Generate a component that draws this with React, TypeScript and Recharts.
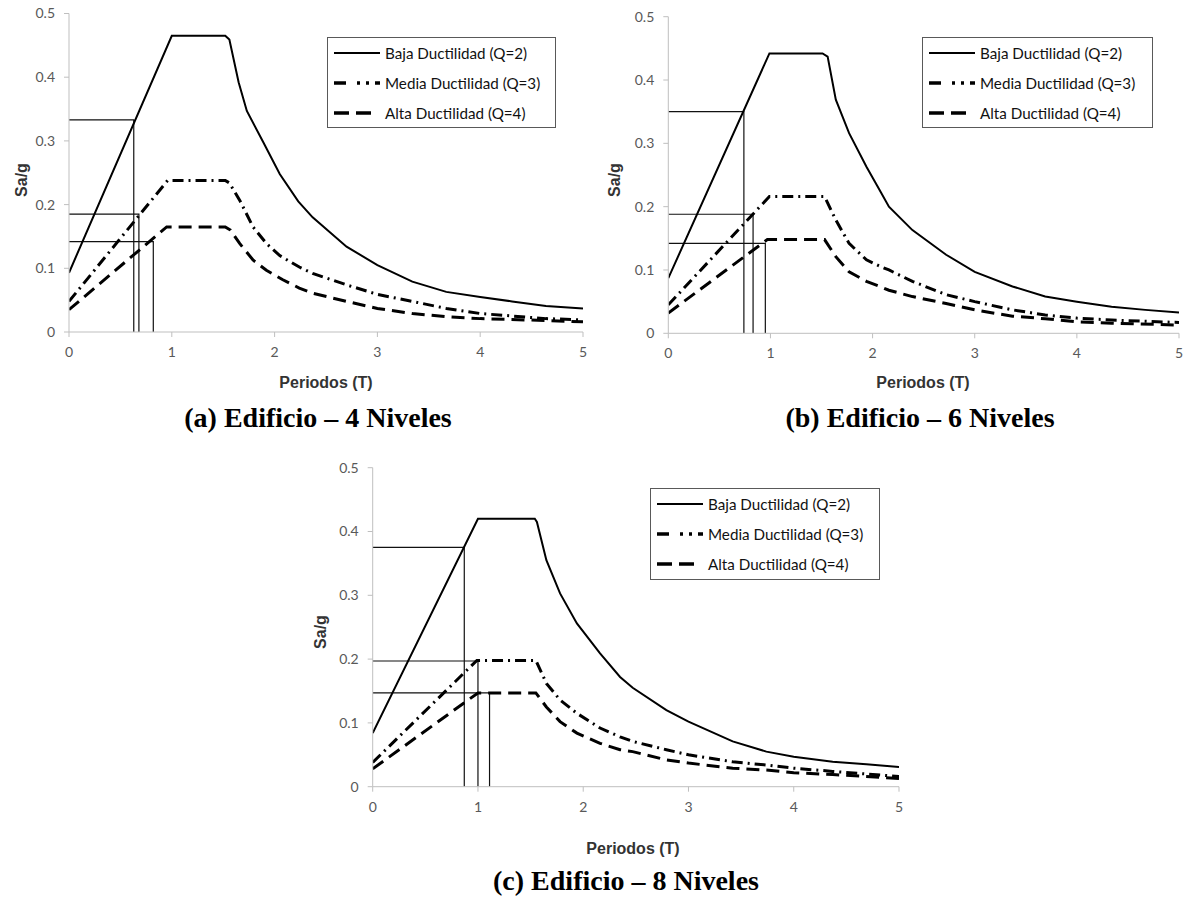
import React from 'react';
import { LineChart, Line, XAxis, YAxis } from 'recharts';

// ---------- text ----------
const SERIES_NAMES = ['Baja Ductilidad (Q=2)', 'Media Ductilidad (Q=3)', 'Alta Ductilidad (Q=4)'];
const X_TICKS = [0, 1, 2, 3, 4, 5];
const Y_TICKS = [0, 0.1, 0.2, 0.3, 0.4, 0.5];
const X_LABEL = 'Periodos (T)';
const Y_LABEL = 'Sa/g';
const TITLES = ['(a) Edificio – 4 Niveles', '(b) Edificio – 6 Niveles', '(c) Edificio – 8 Niveles'];

// ---------- panel (a) 4 niveles ----------
const A_BAJA_T = [0, 1.0, 1.52, 1.56, 1.65, 1.73, 1.89, 2.05, 2.23, 2.37, 2.7, 3.0, 3.34, 3.67, 4.0, 4.31, 4.64, 5.0];
const A_BAJA_V = [0.093, 0.465, 0.465, 0.459, 0.392, 0.347, 0.298, 0.248, 0.205, 0.18, 0.134, 0.105, 0.079, 0.063, 0.055, 0.048, 0.041, 0.037];
const A_MEDIA_T = [0, 0.96, 1.52, 1.56, 1.66, 1.79, 1.92, 2.05, 2.24, 2.37, 2.7, 3.0, 3.34, 3.67, 4.0, 4.64, 5.0];
const A_MEDIA_V = [0.048, 0.238, 0.238, 0.234, 0.207, 0.165, 0.139, 0.12, 0.102, 0.092, 0.074, 0.059, 0.048, 0.037, 0.029, 0.021, 0.019];
const A_ALTA_T = [0, 0.95, 1.52, 1.57, 1.66, 1.79, 1.92, 2.08, 2.24, 2.37, 2.7, 3.0, 3.34, 3.67, 4.0, 4.64, 5.0];
const A_ALTA_V = [0.035, 0.165, 0.165, 0.16, 0.139, 0.113, 0.097, 0.082, 0.069, 0.061, 0.048, 0.037, 0.029, 0.024, 0.021, 0.018, 0.016];
const A_REF_T = [0.63, 0.68, 0.82];
const A_REF_V = [0.333, 0.185, 0.142];

// ---------- panel (b) 6 niveles ----------
const B_BAJA_T = [0, 0.99, 1.51, 1.56, 1.64, 1.77, 1.94, 2.07, 2.16, 2.39, 2.72, 3.0, 3.37, 3.69, 4.0, 4.34, 4.67, 5.0];
const B_BAJA_V = [0.087, 0.442, 0.442, 0.437, 0.369, 0.316, 0.263, 0.226, 0.2, 0.163, 0.124, 0.097, 0.074, 0.058, 0.05, 0.042, 0.037, 0.033];
const B_MEDIA_T = [0, 0.99, 1.53, 1.64, 1.77, 1.94, 2.07, 2.16, 2.39, 2.72, 3.0, 3.37, 3.69, 4.0, 4.34, 5.0];
const B_MEDIA_V = [0.045, 0.216, 0.216, 0.179, 0.142, 0.116, 0.106, 0.1, 0.082, 0.061, 0.05, 0.037, 0.029, 0.024, 0.021, 0.017];
const B_ALTA_T = [0, 0.97, 1.53, 1.64, 1.77, 1.94, 2.07, 2.16, 2.39, 2.72, 3.0, 3.37, 3.69, 4.0, 4.34, 5.0];
const B_ALTA_V = [0.032, 0.148, 0.148, 0.121, 0.097, 0.082, 0.074, 0.068, 0.058, 0.047, 0.037, 0.027, 0.023, 0.018, 0.016, 0.013];
const B_REF_T = [0.74, 0.83, 0.95];
const B_REF_V = [0.35, 0.188, 0.142];

// ---------- panel (c) 8 niveles ----------
const C_BAJA_T = [0, 1.0, 1.54, 1.56, 1.65, 1.78, 1.94, 2.16, 2.35, 2.47, 2.79, 3.0, 3.42, 3.74, 4.0, 4.37, 4.69, 5.0];
const C_BAJA_V = [0.084, 0.42, 0.42, 0.415, 0.355, 0.303, 0.256, 0.209, 0.172, 0.155, 0.12, 0.102, 0.071, 0.055, 0.047, 0.039, 0.035, 0.031];
const C_MEDIA_T = [0, 0.99, 1.55, 1.65, 1.78, 1.94, 2.16, 2.35, 2.47, 2.79, 3.0, 3.42, 3.74, 4.0, 4.37, 5.0];
const C_MEDIA_V = [0.038, 0.198, 0.198, 0.162, 0.136, 0.115, 0.092, 0.078, 0.071, 0.058, 0.05, 0.039, 0.034, 0.029, 0.024, 0.016];
const C_ALTA_T = [0, 1.0, 1.55, 1.65, 1.78, 1.94, 2.16, 2.35, 2.47, 2.79, 3.0, 3.42, 3.74, 4.0, 4.37, 5.0];
const C_ALTA_V = [0.028, 0.147, 0.147, 0.125, 0.102, 0.084, 0.068, 0.058, 0.055, 0.042, 0.037, 0.029, 0.026, 0.022, 0.019, 0.013];
const C_REF_T = [0.87, 1.0, 1.11];
const C_REF_V = [0.375, 0.197, 0.147];

// ---------- helpers ----------
const zip = (t: number[], v: number[]) => t.map((T, i) => ({ T, v: v[i] }));
const refPath = (T: number, v: number) => [{ T: 0, v }, { T, v }, { T, v: 0 }];

const STYLES = [
  { strokeWidth: 2, dash: undefined as string | undefined, legendDash: undefined as string | undefined },
  { strokeWidth: 3, dash: '11 5 2 5', legendDash: '12 11 3 6 3 6 10' },
  { strokeWidth: 3, dash: '13 7', legendDash: '15 7 15 40' },
];

const PANELS = [
  {
    series: [zip(A_BAJA_T, A_BAJA_V), zip(A_MEDIA_T, A_MEDIA_V), zip(A_ALTA_T, A_ALTA_V)],
    refs: A_REF_T.map((t, i) => refPath(t, A_REF_V[i])),
    box: { left: 0, top: 0, width: 600, height: 370, yw: 69, xh: 38, margin: { top: 13.5, right: 17, left: 0, bottom: 0 } },
    legend: { left: 327, top: 37, width: 229, height: 91 },
    ylab: { x: 22, y: 180 },
    xlab: { x: 326, y: 383 },
    title: { x: 318, y: 418 },
  },
  {
    series: [zip(B_BAJA_T, B_BAJA_V), zip(B_MEDIA_T, B_MEDIA_V), zip(B_ALTA_T, B_ALTA_V)],
    refs: B_REF_T.map((t, i) => refPath(t, B_REF_V[i])),
    box: { left: 600, top: 0, width: 588, height: 371, yw: 68.3, xh: 37.7, margin: { top: 16.7, right: 9, left: 0, bottom: 0 } },
    legend: { left: 922, top: 37, width: 231, height: 91 },
    ylab: { x: 615, y: 180 },
    xlab: { x: 923, y: 383 },
    title: { x: 920, y: 418 },
  },
  {
    series: [zip(C_BAJA_T, C_BAJA_V), zip(C_MEDIA_T, C_MEDIA_V), zip(C_ALTA_T, C_ALTA_V)],
    refs: C_REF_T.map((t, i) => refPath(t, C_REF_V[i])),
    box: { left: 300, top: 440, width: 620, height: 385, yw: 72.7, xh: 38.3, margin: { top: 27.7, right: 21, left: 0, bottom: 0 } },
    legend: { left: 650, top: 488, width: 230, height: 92 },
    ylab: { x: 321, y: 632 },
    xlab: { x: 633, y: 849 },
    title: { x: 626, y: 881 },
  },
];

const tickStyle = { fill: '#595959', fontSize: 14, fontFamily: 'Lato, "Open Sans", sans-serif' };
const axisStroke = '#bfbfbf';

function Panel({ p }: { p: (typeof PANELS)[number] }) {
  const b = p.box;
  return (
    <div style={{ position: 'absolute', left: b.left, top: b.top }}>
      <LineChart width={b.width} height={b.height} margin={b.margin}>
        <XAxis
          type="number"
          dataKey="T"
          domain={[0, 5]}
          ticks={X_TICKS}
          allowDataOverflow
          height={b.xh}
          tick={tickStyle}
          tickSize={5}
          tickMargin={10}
          axisLine={{ stroke: axisStroke }}
          tickLine={{ stroke: axisStroke }}
        />
        <YAxis
          type="number"
          domain={[0, 0.5]}
          ticks={Y_TICKS}
          allowDataOverflow
          width={b.yw}
          tick={tickStyle}
          tickSize={5}
          tickMargin={9}
          axisLine={{ stroke: axisStroke }}
          tickLine={{ stroke: axisStroke }}
        />
        {p.refs.map((d, i) => (
          <Line
            key={'r' + i}
            data={d}
            dataKey="v"
            type="linear"
            stroke="#111"
            strokeWidth={1.2}
            dot={false}
            activeDot={false}
            isAnimationActive={false}
          />
        ))}
        {p.series.map((d, i) => (
          <Line
            key={'s' + i}
            data={d}
            dataKey="v"
            name={SERIES_NAMES[i]}
            type="linear"
            stroke="#000"
            strokeWidth={STYLES[i].strokeWidth}
            strokeDasharray={STYLES[i].dash}
            dot={false}
            activeDot={false}
            isAnimationActive={false}
          />
        ))}
      </LineChart>
    </div>
  );
}

function LegendBox({ box }: { box: { left: number; top: number; width: number; height: number } }) {
  return (
    <div
      style={{
        position: 'absolute',
        left: box.left,
        top: box.top,
        width: box.width,
        height: box.height,
        border: '1px solid #595959',
        boxSizing: 'border-box',
        background: '#fff',
      }}
    >
      {SERIES_NAMES.map((name, i) => (
        <div
          key={i}
          style={{ position: 'absolute', left: 5, top: 5 + i * 30, height: 20, display: 'flex', alignItems: 'center' }}
        >
          <svg width={48} height={20} style={{ display: 'block' }}>
            <line
              x1={1}
              y1={10}
              x2={47}
              y2={10}
              stroke="#000"
              strokeWidth={STYLES[i].strokeWidth + (i === 0 ? 0 : 0.5)}
              strokeDasharray={STYLES[i].legendDash}
            />
          </svg>
          <span
            style={{
              marginLeft: 4,
              fontFamily: 'Lato, "Open Sans", sans-serif',
              fontSize: 15.2,
              color: '#111',
              whiteSpace: 'nowrap',
            }}
          >
            {name}
          </span>
        </div>
      ))}
    </div>
  );
}

export default function App() {
  return (
    <div
      style={{
        position: 'absolute',
        left: 0,
        top: 0,
        width: 1188,
        height: 897,
        background: '#fff',
        overflow: 'hidden',
      }}
    >
      {PANELS.map((p, idx) => (
        <React.Fragment key={idx}>
          <Panel p={p} />
          <LegendBox box={p.legend} />
          <div
            style={{
              position: 'absolute',
              left: p.ylab.x,
              top: p.ylab.y,
              transform: 'translate(-50%, -50%) rotate(-90deg)',
              fontFamily: '"Liberation Sans", Arial, sans-serif',
              fontWeight: 'bold',
              fontSize: 16,
              color: '#333',
              whiteSpace: 'nowrap',
            }}
          >
            {Y_LABEL}
          </div>
          <div
            style={{
              position: 'absolute',
              left: p.xlab.x,
              top: p.xlab.y,
              transform: 'translate(-50%, -50%)',
              fontFamily: '"Liberation Sans", Arial, sans-serif',
              fontWeight: 'bold',
              fontSize: 16,
              color: '#333',
              whiteSpace: 'nowrap',
            }}
          >
            {X_LABEL}
          </div>
          <div
            style={{
              position: 'absolute',
              left: p.title.x,
              top: p.title.y,
              transform: 'translate(-50%, -50%)',
              fontFamily: '"Liberation Serif", "Times New Roman", serif',
              fontWeight: 'bold',
              fontSize: 28,
              color: '#000',
              whiteSpace: 'nowrap',
            }}
          >
            {TITLES[idx]}
          </div>
        </React.Fragment>
      ))}
    </div>
  );
}
